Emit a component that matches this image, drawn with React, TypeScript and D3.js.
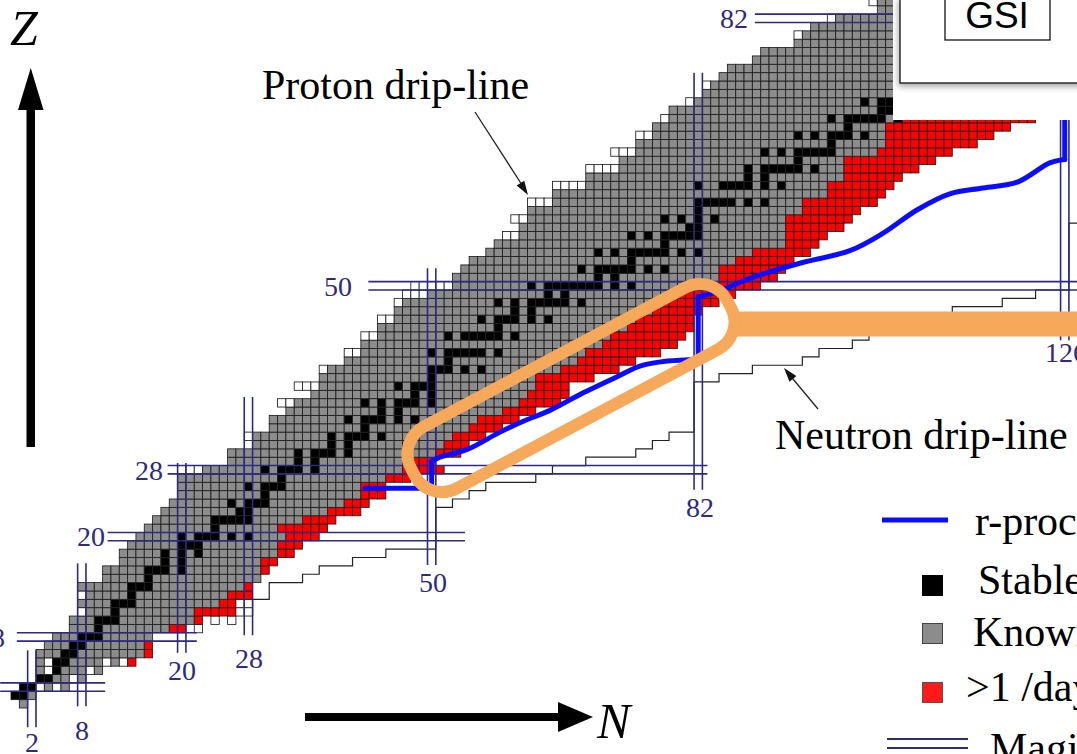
import React from "react";
import * as d3 from "d3";

// ---- chart data, indexed by proton number Z = 0..84 ----
const knownMin = [
  1, 0, 1, 3, 3, 3, 3, 4, 5, 7, 7, 9, 8, 9, 8, 11, 11, 13, 13, 14, 15, 16, 17, 18, 19, 20, 20, 20, 23, 26,
  26, 29, 29, 31, 31, 33, 34, 36, 37, 37, 38, 40, 42, 42, 44, 44, 46, 46, 47, 50, 53, 53, 54, 55, 57, 58, 61, 61, 62, 62,
  65, 65, 69, 69, 73, 73, 75, 75, 77, 77, 79, 79, 82, 83, 84, 85, 86, 89, 90, 94, 95, 96, 99, 104, 104,
];
const protonDrip = [
  1, 0, 1, 3, 3, 3, 3, 4, 5, 7, 7, 8, 8, 8, 8, 11, 11, 13, 13, 14, 15, 16, 17, 18, 19, 20, 20, 20, 20, 26,
  26, 29, 28, 31, 31, 33, 32, 36, 34, 37, 37, 40, 40, 42, 42, 44, 44, 46, 46, 47, 48, 53, 54, 55, 57, 58, 59, 61, 60, 62,
  62, 65, 65, 69, 69, 73, 72, 75, 75, 77, 78, 79, 81, 83, 83, 85, 86, 89, 90, 94, 94, 96, 98, 104, 103,
];
const knownMax = [
  1, 2, 6, 8, 10, 13, 15, 15, 16, 18, 21, 21, 24, 25, 27, 29, 29, 29, 31, 31, 32, 31, 34, 37, 39, 41, 41, 44, 46, 47,
  50, 51, 52, 54, 55, 58, 60, 61, 62, 62, 65, 67, 68, 70, 71, 73, 74, 76, 77, 79, 83, 84, 84, 86, 88, 92, 92, 92, 92, 94,
  94, 97, 97, 99, 99, 99, 103, 104, 104, 104, 105, 107, 108, 110, 111, 112, 113, 115, 116, 118, 120, 122, 124, 126, 128,
];
const redMax = [
  1, 2, 6, 8, 10, 14, 16, 16, 16, 20, 22, 26, 26, 28, 28, 29, 30, 31, 33, 34, 36, 37, 38, 41, 42, 44, 44, 47, 51, 50,
  53, 54, 56, 58, 60, 62, 65, 66, 66, 69, 72, 74, 77, 79, 80, 81, 81, 82, 84, 86, 89, 91, 92, 93, 95, 96, 97, 99, 100, 101,
  103, 104, 105, 106, 108, 110, 112, 115, 117, 119, 122, 124, 126, 128, 130, 130, 130, 130, 130, 130, 130, 130, 130, 130, 130,
];
// neutron drip line (last bound N) for Z = 11..84
const neutronDripFirstZ = 11;
const neutronDrip = [
  28, 28, 30, 30, 34, 36, 40, 44, 50, 50, 50, 50, 50, 52, 54, 56, 62, 64, 68, 74, 76, 78, 81, 81, 81, 81, 81, 81,
  84, 88, 94, 96, 100, 102, 106, 109, 112, 118, 122, 126, 126, 126, 126, 126, 126, 126, 126,
  140, 140, 140, 140, 140, 140, 140, 140, 140, 140, 140, 140, 140, 140, 140, 140, 140, 140, 140, 140, 140, 140, 140, 140, 140, 140, 140,
];
const stableN: number[][] = [
  [], [0, 1], [1, 2], [3, 4], [5], [5, 6], [6, 7], [7, 8], [8, 9, 10], [10],
  [10, 11, 12], [12], [12, 13, 14], [14], [14, 15, 16], [16], [16, 17, 18, 20], [18, 20], [18, 20, 22], [20, 21, 22],
  [20, 22, 23, 24, 26, 28], [24], [24, 25, 26, 27, 28], [27, 28], [26, 28, 29, 30], [30], [28, 30, 31, 32], [32], [30, 32, 33, 34, 36], [34, 36],
  [34, 36, 37, 38, 40], [38, 40], [38, 40, 41, 42, 44], [42], [40, 42, 43, 44, 46, 48], [44, 46], [42, 44, 46, 47, 48, 50], [48, 50], [46, 48, 49, 50], [50],
  [50, 51, 52, 54, 56], [52], [50, 52, 53, 54, 55, 56, 58], [], [52, 54, 55, 56, 57, 58, 60], [58], [56, 58, 59, 60, 62, 64], [60, 62], [58, 60, 62, 63, 64, 65, 66, 68], [64, 66],
  [62, 64, 65, 66, 67, 68, 69, 70, 72, 74], [70, 72], [68, 70, 71, 72, 73, 74, 76, 78], [74], [70, 72, 74, 75, 76, 77, 78, 80, 82], [78], [74, 76, 78, 79, 80, 81, 82], [81, 82], [78, 80, 82, 84], [82],
  [82, 83, 84, 85, 86, 88, 90], [], [82, 85, 86, 87, 88, 90, 92], [88, 90], [88, 90, 91, 92, 93, 94, 96], [94], [90, 92, 94, 95, 96, 97, 98], [98], [94, 96, 98, 99, 100, 102], [100],
  [98, 100, 101, 102, 103, 104, 106], [104, 105], [102, 104, 105, 106, 107, 108], [107, 108], [106, 108, 109, 110, 112], [110, 112], [108, 110, 111, 112, 113, 114, 116], [114, 116], [112, 114, 116, 117, 118, 120], [118],
  [116, 118, 119, 120, 121, 122, 124], [122, 124], [122, 124, 125, 126], [126], [],
];
// [Z, N] cells drawn white (unbound / not yet seen)
const whiteCells = [
  [2, 3], [2, 5], [3, 7], [4, 4], [4, 9], [5, 4], [5, 11], [5, 13],
  [9, 22], [10, 24], [10, 26], [11, 27], [11, 28], [12, 27], [12, 28],
];

const magicN = [2, 8, 20, 28, 50, 82, 126];
const magicNFromZ = [-2.3, 0.2, 6.6, 8.7, 17.1, 26.1, 44];
const magicNToZ = [6.9, 17.3, 29.3, 37.2, 52.6, 76, 86];
const magicZ = [2, 8, 20, 28, 50, 82];
const magicZFromN = [-1.3, 0.7, 11.6, 18.8, 42.9, 89.3];
const magicZToN = [11.3, 22.3, 54.5, 83.6, 130, 130];

// r-process path [N, Z]
const rPathLow = [[42.5, 26.3], [50.5, 26.3], [50.5, 29.5]];
const rPathMid = [
  [50.5, 29.5], [51.5, 30.0], [54.7, 30.9], [58.7, 33.0], [61.5, 34.3], [64.7, 35.6], [68.7, 37.7],
  [72.7, 39.6], [75.5, 40.9], [78.8, 41.5], [82.5, 41.7],
];
const rPathShell = [[82.5, 41.7], [82.5, 49.2]];
const rPathHigh = [
  [82.5, 49.2], [84.8, 49.8], [88.7, 51.4], [94.7, 53.2], [100.7, 54.7], [104.7, 56.8], [108.8, 59.6],
  [112.7, 61.5], [116.7, 62.2], [120.8, 62.9], [124.7, 65.2], [126.5, 65.6],
];
const rPathTop = [[126.5, 65.6], [126.5, 74]];

const SERIF = "'Liberation Serif', 'Times New Roman', serif";
const NAVY = "#2d2a7f";
const ORANGE = "#f6a85b";
const BLUE = "#0c0cff";

export default function App() {
  const width = 1077;
  const height = 754;

  const x = d3.scaleLinear().domain([0, 126]).range([11, 11 + 126 * 8.33]);
  const y = d3.scaleLinear().domain([0, 84]).range([708, 708 - 84 * 8.36]);

  type Cell = { z: number; n: number; fill: string };
  const cells: Cell[] = [];
  const key = (z: number, n: number) => z * 1000 + n;
  const white = new Set(whiteCells.map(([z, n]) => key(z, n)));
  d3.range(0, 85).forEach((z) => {
    const stable = new Set(stableN[z]);
    const seen = new Set<number>();
    const push = (n: number, fill: string) => {
      if (n > 131) return;
      seen.add(n);
      let f = fill;
      if (white.has(key(z, n))) f = "#ffffff";
      if (stable.has(n)) f = "#000000";
      cells.push({ z, n, fill: f });
    };
    for (let n = protonDrip[z]; n < knownMin[z]; n++) push(n, "#ffffff");
    for (let n = knownMin[z]; n <= knownMax[z]; n++) push(n, "#8c8c8c");
    for (let n = knownMax[z] + 1; n <= redMax[z]; n++) push(n, "#ff0000");
    whiteCells.forEach(([wz, wn]) => {
      if (wz === z && !seen.has(wn)) cells.push({ z, n: wn, fill: "#ffffff" });
    });
  });

  // neutron drip-line staircase
  const stair = d3.path();
  neutronDrip.forEach((nd, i) => {
    const z = neutronDripFirstZ + i;
    const xe = x(nd + 1);
    if (i === 0) stair.moveTo(xe, y(z));
    else stair.lineTo(xe, y(z));
    stair.lineTo(xe, y(z + 1));
  });

  const lin = d3
    .line<number[]>()
    .x((d) => x(d[0]))
    .y((d) => y(d[1]));
  const smooth = d3
    .line<number[]>()
    .x((d) => x(d[0]))
    .y((d) => y(d[1]))
    .curve(d3.curveCatmullRom.alpha(0.5));

  const zLabels: Record<number, [number, number]> = {
    8: [5, 647], 20: [105, 546], 28: [163, 480], 50: [352, 296], 82: [748, 28],
  };
  const nLabels: Record<number, [number, number]> = {
    2: [32, 752], 8: [82, 740], 20: [182, 680], 28: [249, 668], 50: [433, 592], 82: [700, 517], 126: [1066, 362],
  };

  const arrowHead = (x1: number, y1: number, x2: number, y2: number, len = 14, half = 4.5) => {
    const a = Math.atan2(y2 - y1, x2 - x1);
    const bx = x2 - len * Math.cos(a);
    const by = y2 - len * Math.sin(a);
    const px = -Math.sin(a) * half;
    const py = Math.cos(a) * half;
    return `${x2},${y2} ${bx + px},${by + py} ${bx - px},${by - py}`;
  };

  return (
    <svg
      width={width}
      height={height}
      style={{ position: "absolute", left: 0, top: 0, background: "#fff" }}
    >
      <defs>
        <filter id="shadow" x="-20%" y="-20%" width="140%" height="160%">
          <feDropShadow dx="-1" dy="3" stdDeviation="3" floodColor="#000" floodOpacity="0.35" />
        </filter>
      </defs>
      <rect width={width} height={height} fill="#fff" />

      {/* nuclide cells */}
      <g stroke="#1e1e1e" strokeWidth={0.85}>
        {cells.map((c, i) => (
          <rect
            key={i}
            x={x(c.n)}
            y={y(c.z + 1)}
            width={x(c.n + 1) - x(c.n)}
            height={y(c.z) - y(c.z + 1)}
            fill={c.fill}
          />
        ))}
      </g>

      {/* neutron drip line */}
      <path d={stair.toString()} fill="none" stroke="#222" strokeWidth={1.2} />

      {/* magic numbers */}
      <g stroke={NAVY} strokeWidth={1.6}>
        {magicN.map((m, i) => (
          <g key={`n${m}`}>
            {[m, m + 1].map((e) => (
              <line key={e} x1={x(e)} x2={x(e)} y1={y(magicNFromZ[i])} y2={y(magicNToZ[i])} />
            ))}
          </g>
        ))}
        {magicZ.map((m, i) => (
          <g key={`z${m}`}>
            {[m, m + 1].map((e) => (
              <line key={e} y1={y(e)} y2={y(e)} x1={x(magicZFromN[i])} x2={x(magicZToN[i])} />
            ))}
          </g>
        ))}
      </g>
      <g fill={NAVY} fontFamily={SERIF} fontSize={28}>
        {magicZ.filter((m) => zLabels[m]).map((m) => (
          <text key={`zl${m}`} x={zLabels[m][0]} y={zLabels[m][1]} textAnchor="end">
            {m}
          </text>
        ))}
        {magicN.map((m) => (
          <text key={`nl${m}`} x={nLabels[m][0]} y={nLabels[m][1]} textAnchor="middle">
            {m}
          </text>
        ))}
      </g>

      {/* r-process path */}
      <g fill="none" stroke={BLUE} strokeWidth={5} strokeLinecap="round" strokeLinejoin="round">
        <path d={lin(rPathLow) ?? ""} />
        <path d={smooth(rPathMid) ?? ""} />
        <path d={lin(rPathShell) ?? ""} />
        <path d={smooth(rPathHigh) ?? ""} />
        <path d={lin(rPathTop) ?? ""} />
      </g>

      {/* pasted GSI box */}
      <rect x={893} y={0} width={190} height={120} fill="#fff" />
      <rect x={900} y={-3} width={190} height={86} fill="#fff" stroke="#111" strokeWidth={1.3} filter="url(#shadow)" />
      <rect x={945} y={-3} width={105} height={43} fill="#fff" stroke="#111" strokeWidth={1.3} />
      <text x={997} y={28} textAnchor="middle" fontFamily="'Liberation Sans', Arial, sans-serif" fontSize={37}>
        GSI
      </text>

      {/* orange highlight */}
      <rect x={735} y={311.5} width={350} height={25} fill={ORANGE} />
      <rect
        x={-179}
        y={-35}
        width={358}
        height={70}
        rx={31}
        fill="none"
        stroke={ORANGE}
        strokeWidth={12}
        transform="translate(571,388) rotate(-28)"
      />

      {/* axes arrows */}
      <rect x={26.5} y={106} width={8.5} height={341} fill="#000" />
      <polygon points="30.75,68 18,110 43.5,110" fill="#000" />
      <text x={10} y={45} fontFamily={SERIF} fontStyle="italic" fontSize={50}>Z</text>
      <rect x={305} y={713} width={256} height={8} fill="#000" />
      <polygon points="593,717 558,702 558,732" fill="#000" />
      <text x={597} y={738} fontFamily={SERIF} fontStyle="italic" fontSize={50}>N</text>

      {/* annotations */}
      <g fontFamily={SERIF} fontSize={42} fill="#000">
        <text x={262} y={99}>Proton drip-line</text>
        <text x={775} y={449}>Neutron drip-line</text>
      </g>
      <line x1={475} y1={112} x2={524} y2={188} stroke="#222" strokeWidth={1.3} />
      <polygon points={arrowHead(475, 112, 528, 195)} fill="#111" />
      <line x1={818} y1={409} x2={788} y2={373} stroke="#222" strokeWidth={1.3} />
      <polygon points={arrowHead(818, 409, 784, 368)} fill="#111" />

      {/* legend */}
      <line x1={882} x2={948} y1={520} y2={520} stroke={BLUE} strokeWidth={5} />
      <rect x={922} y={575} width={21} height={21} fill="#000" />
      <rect x={922.5} y={623.5} width={20} height={20} fill="#8c8c8c" stroke="#444" />
      <rect x={922.5} y={682.5} width={20} height={20} fill="#ff1a1a" stroke="#555" />
      <line x1={887} x2={968} y1={739} y2={739} stroke={NAVY} strokeWidth={2} />
      <line x1={887} x2={968} y1={748} y2={748} stroke={NAVY} strokeWidth={2} />
      <g fontFamily={SERIF} fontSize={42} fill="#000">
        <text x={975} y={535}>r-process path</text>
        <text x={978} y={594}>Stable nuclei</text>
        <text x={973} y={646}>Known nuclei</text>
        <text x={966} y={701}>&gt;1 /day</text>
        <text x={990} y={762}>Magic numbers</text>
      </g>
    </svg>
  );
}
